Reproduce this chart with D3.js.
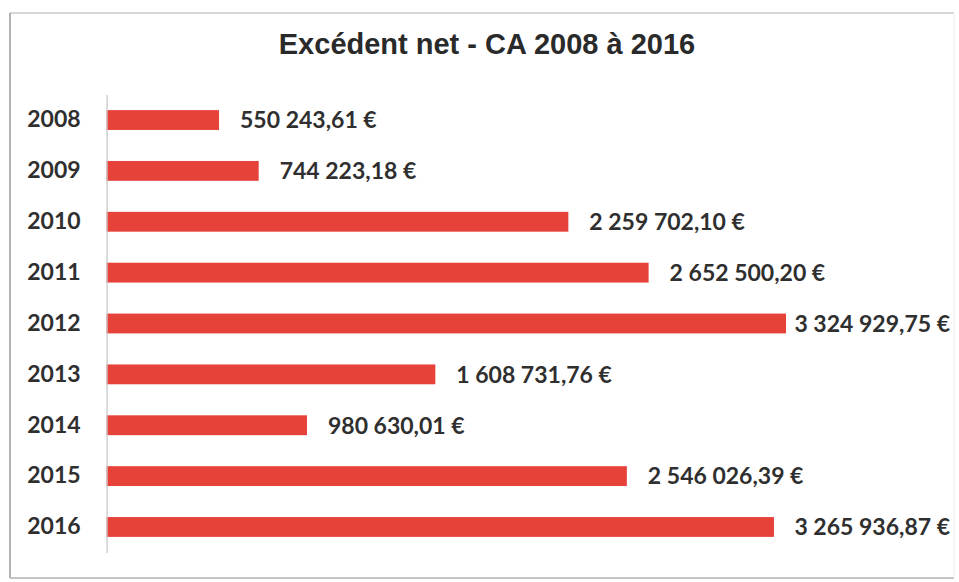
<!DOCTYPE html>
<html>
<head>
<meta charset="utf-8">
<script src="https://cdn.jsdelivr.net/npm/d3@7"></script>
<style>
  html, body { margin: 0; padding: 0; background: #fff; }
  svg { display: block; }
</style>
</head>
<body>
<svg id="chart" width="959" height="582"></svg>
<script>
const title = "Excédent net - CA 2008 à 2016";
const years = ["2008", "2009", "2010", "2011", "2012", "2013", "2014", "2015", "2016"];
const values = [550243.61, 744223.18, 2259702.10, 2652500.20, 3324929.75, 1608731.76, 980630.01, 2546026.39, 3265936.87];
const valueLabels = ["550 243,61 €", "744 223,18 €", "2 259 702,10 €", "2 652 500,20 €", "3 324 929,75 €", "1 608 731,76 €", "980 630,01 €", "2 546 026,39 €", "3 265 936,87 €"];

const data = years.map((y, i) => ({ year: y, value: values[i], label: valueLabels[i] }));

const svg = d3.select("#chart");

// frame
svg.append("line").attr("x1", 10).attr("y1", 13).attr("x2", 954).attr("y2", 13)
  .attr("stroke", "#c8c8c8").attr("stroke-width", 1.5);
svg.append("line").attr("x1", 10).attr("y1", 13).attr("x2", 10).attr("y2", 578)
  .attr("stroke", "#9a9a9a").attr("stroke-width", 1.5);
svg.append("line").attr("x1", 10).attr("y1", 578).attr("x2", 954).attr("y2", 578)
  .attr("stroke", "#b0b0b0").attr("stroke-width", 1.5);
svg.append("line").attr("x1", 954).attr("y1", 13).attr("x2", 954).attr("y2", 578)
  .attr("stroke", "#ececec").attr("stroke-width", 1);

const x = d3.scaleLinear().domain([0, 3500000]).range([106.6, 821.8]);
const y = d3.scaleBand().domain(years).range([94.6, 552.4]).paddingInner(0.61).paddingOuter(0.305);

// title
svg.append("text")
  .attr("x", 487).attr("y", 54)
  .attr("text-anchor", "middle")
  .attr("font-family", "Liberation Sans, Arial, sans-serif")
  .attr("font-weight", "bold")
  .attr("font-size", 29)
  .attr("fill", "#2a2a2a")
  .text(title);

// bars
svg.append("g").selectAll("rect").data(data).join("rect")
  .attr("x", x(0))
  .attr("y", d => y(d.year))
  .attr("width", d => x(d.value) - x(0))
  .attr("height", y.bandwidth())
  .attr("fill", "#e6423a");

// axis (category)
const axis = d3.axisLeft(y).tickSize(0).tickPadding(26);
const gAxis = svg.append("g").attr("transform", `translate(${x(0)},0)`).call(axis);
gAxis.select(".domain").attr("stroke", "#c4c4c4").attr("stroke-width", 1.2);
gAxis.selectAll("text")
  .attr("font-family", "Lato, sans-serif")
  .attr("font-weight", "bold")
  .attr("font-size", 23)
  .attr("fill", "#2f2f2f");

// value labels (kept inside the chart area, as the original does)
const rightLimit = 950;
svg.append("g").selectAll("text").data(data).join("text")
  .attr("y", d => y(d.year) + y.bandwidth() / 2)
  .attr("dy", "0.36em")
  .attr("font-family", "Lato, sans-serif")
  .attr("font-weight", "bold")
  .attr("font-size", 23)
  .attr("fill", "#2f2f2f")
  .text(d => d.label)
  .attr("x", function(d) {
    const w = this.getComputedTextLength();
    return Math.min(x(d.value) + 21, rightLimit - w);
  });
</script>
</body>
</html>
